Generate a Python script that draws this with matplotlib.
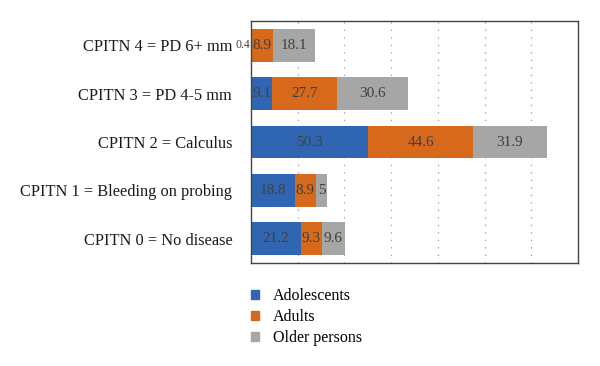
import numpy as np
import matplotlib
matplotlib.use("Agg")
import matplotlib.pyplot as plt
from matplotlib.patches import Patch

plt.rcParams['font.family'] = ['Liberation Serif', 'DejaVu Serif']

categories = ['CPITN 0 = No disease', 'CPITN 1 = Bleeding on probing',
              'CPITN 2 = Calculus', 'CPITN 3 = PD 4-5 mm', 'CPITN 4 = PD 6+ mm']
adolescents = [21.2, 18.8, 50.3, 9.1, 0.4]
adults = [9.3, 8.9, 44.6, 27.7, 8.9]
older = [9.6, 5, 31.9, 30.6, 18.1]
series_names = ['Adolescents', 'Adults', 'Older persons']
colors = ['#3065B2', '#D6691C', '#A6A6A6']

fig = plt.figure(figsize=(6, 3.66), dpi=100)
ax = fig.add_axes([251/600, 1 - 263/366, (578-251)/600, (263-21)/366])

y = np.arange(len(categories))
left = np.zeros(len(categories))
for vals, col in zip([adolescents, adults, older], colors):
    vals = np.array(vals)
    ax.barh(y, vals, left=left, height=0.68, color=col, zorder=2)
    for yi, l, v in zip(y, left, vals):
        if v < 1:
            # tiny segment: label spills over the axis edge, as in the source
            ax.text(l + v / 2 - 0.5, yi, f'{v:g}', ha='right', va='center',
                    fontsize=8.5, color='#404040', zorder=3, clip_on=False)
            continue
        ax.text(l + v / 2, yi, f'{v:g}', ha='center', va='center',
                fontsize=11, color='#404040', zorder=3)
    left += vals

ax.set_xlim(0, 140)
ax.set_ylim(-0.5, len(categories) - 0.5)
ax.set_xticks(np.arange(20, 140, 20))
ax.xaxis.grid(True, linestyle=(0, (1, 5)), color='#9a9a9a', linewidth=0.9)
ax.tick_params(axis='x', length=0, labelbottom=False)
ax.tick_params(axis='y', length=0, pad=13.5, labelsize=11.8, labelcolor='#1a1a1a')
ax.set_yticks(y)
ax.set_yticklabels(categories)
for s in ax.spines.values():
    s.set_color('#444444')
    s.set_linewidth(1.0)

handles = [Patch(color=c, label=n) for c, n in zip(colors, series_names)]
fig.legend(handles=handles, loc='upper left', bbox_to_anchor=(237/600, 1 - 274/366),
           frameon=False, fontsize=11.5, handlelength=0.45, handleheight=0.45,
           handletextpad=0.9, labelspacing=0.3)

fig.savefig('out.png', dpi=100)
